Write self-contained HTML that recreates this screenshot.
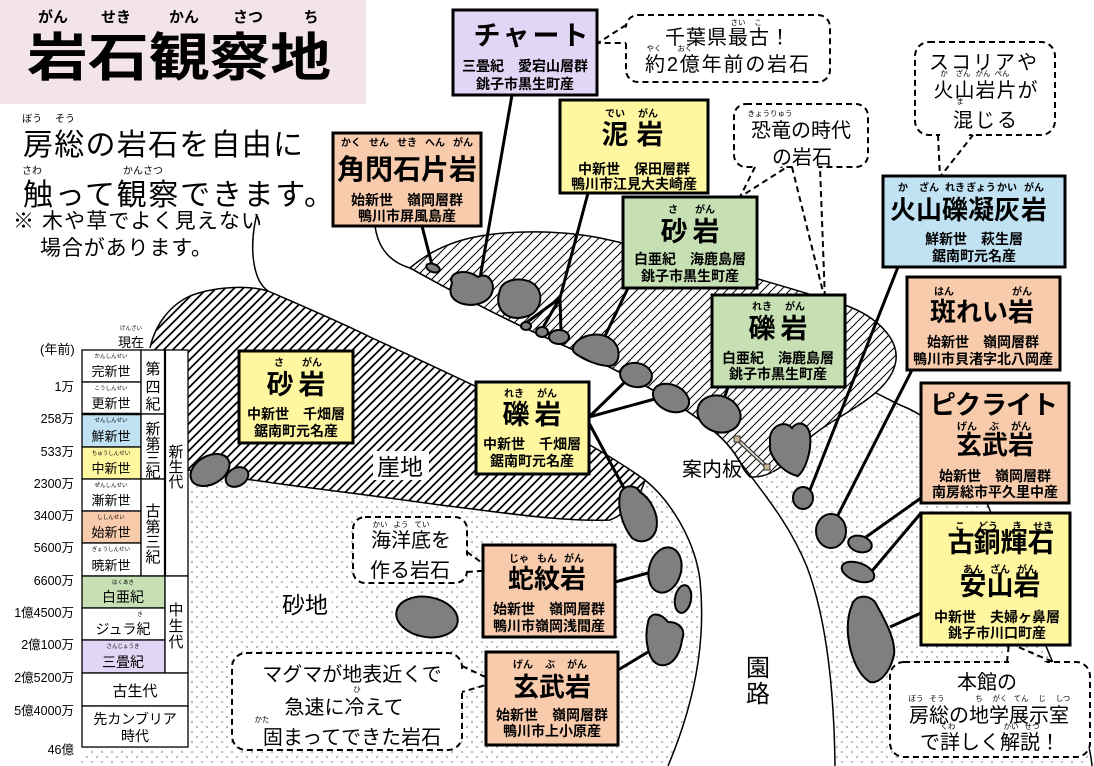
<!DOCTYPE html>
<html><head><meta charset="utf-8">
<style>
html,body{margin:0;padding:0;background:#fff;}
svg{display:block;}
text{font-family:"Liberation Sans","Noto Sans CJK JP",sans-serif;fill:#000;}
.ti{font-size:27px;font-weight:bold;text-anchor:middle;}
.rb{font-size:10px;font-weight:bold;text-anchor:middle;}
.ln{font-size:14px;font-weight:bold;text-anchor:middle;}
.bu{font-size:20px;text-anchor:middle;}
.br{font-size:7.5px;text-anchor:middle;}
.tl{font-size:13px;text-anchor:middle;}
.tr{font-size:5.5px;text-anchor:middle;}
.lb{font-size:12.5px;text-anchor:end;}
.vt{font-size:15px;text-anchor:middle;}
.box{stroke:#000;stroke-width:3;}
.dash{fill:#fff;stroke:#000;stroke-width:2;stroke-dasharray:6 4;}
.dl{fill:none;stroke:#000;stroke-width:2;stroke-dasharray:6 4;}
.rk{fill:#7f7f7f;stroke:#000;stroke-width:2;}
.cn{stroke:#000;stroke-width:3;fill:none;}
.bd{fill:none;stroke:#000;stroke-width:1.5;}
.tc{stroke:#000;stroke-width:1.3;}
</style></head><body>
<svg width="1094" height="766" viewBox="0 0 1094 766" xmlns="http://www.w3.org/2000/svg">
<defs>
<pattern id="hatch" x="0" y="0" width="9" height="9" patternUnits="userSpaceOnUse"><path d="M0,9 L9,0 M-2,2 L2,-2 M7,11 L11,7" stroke="#000" stroke-width="1" fill="none"/></pattern>
<pattern id="dots" width="10" height="10" patternUnits="userSpaceOnUse"><circle cx="2" cy="2" r="0.9" fill="#888"/><circle cx="7" cy="7" r="0.9" fill="#888"/></pattern>
<clipPath id="cliffclip"><path d="M150,348 C155,325 170,305 190,296 C210,288 245,284 268,291 C300,305 340,322 370,337 C420,360 470,383 520,408 C570,433 610,455 645,480 C640,497 630,512 610,520 C560,522 500,512 440,505 C370,495 300,487 260,481 C235,478 215,474 188,470 L150,470 Z"/></clipPath>
</defs>
<rect width="1094" height="766" fill="#fff"/>
<rect x="0" y="0" width="366" height="104" fill="#f3e4ec"/>

<!-- regions -->
<path style="fill:url(#hatch)" d="M150,348 C155,325 170,305 190,296 C210,288 245,284 268,291 C300,305 340,322 370,337 C420,360 470,383 520,408 C570,433 610,455 645,480 C640,497 630,512 610,520 C560,522 500,512 440,505 C370,495 300,487 260,481 C235,478 215,474 188,470 L150,470 Z"/>
<g clip-path="url(#cliffclip)">
<path fill="none" stroke="#000" stroke-width="1" d="M-92,525l242,-242M-83,525l242,-242M-74,525l242,-242M-65,525l242,-242M-56,525l242,-242M-47,525l242,-242M-38,525l242,-242M-29,525l242,-242M-20,525l242,-242M-11,525l242,-242M-2,525l242,-242M7,525l242,-242M16,525l242,-242M25,525l242,-242M34,525l242,-242M43,525l242,-242M52,525l242,-242M61,525l242,-242M70,525l242,-242M79,525l242,-242M88,525l242,-242M97,525l242,-242M106,525l242,-242M115,525l242,-242M124,525l242,-242M133,525l242,-242M142,525l242,-242M151,525l242,-242M160,525l242,-242M169,525l242,-242M178,525l242,-242M187,525l242,-242M196,525l242,-242M205,525l242,-242M214,525l242,-242M223,525l242,-242M232,525l242,-242M241,525l242,-242M250,525l242,-242M259,525l242,-242M268,525l242,-242M277,525l242,-242M286,525l242,-242M295,525l242,-242M304,525l242,-242M313,525l242,-242M322,525l242,-242M331,525l242,-242M340,525l242,-242M349,525l242,-242M358,525l242,-242M367,525l242,-242M376,525l242,-242M385,525l242,-242M394,525l242,-242M403,525l242,-242M412,525l242,-242M421,525l242,-242M430,525l242,-242M439,525l242,-242M448,525l242,-242M457,525l242,-242M466,525l242,-242M475,525l242,-242M484,525l242,-242M493,525l242,-242M502,525l242,-242M511,525l242,-242M520,525l242,-242M529,525l242,-242M538,525l242,-242M547,525l242,-242M556,525l242,-242M565,525l242,-242M574,525l242,-242M583,525l242,-242M592,525l242,-242M601,525l242,-242M610,525l242,-242M619,525l242,-242M628,525l242,-242M637,525l242,-242M646,525l242,-242M655,525l242,-242"/>
</g>
<path style="fill:url(#dots)" d="M188,470 C215,474 235,478 260,481 C300,487 370,495 440,505 C500,512 560,522 610,520 C630,512 640,497 645,480 C670,500 695,540 700,580 C705,630 700,690 668,766 L80,766 L150,470 Z"/>
<path style="fill:url(#hatch);stroke:#000;stroke-width:1.5" d="M410,268 C425,255 445,243 475,237 C510,230 560,230 600,238 C680,255 780,285 845,305 C880,318 898,340 896,360 C893,385 865,402 835,420 C815,432 800,445 790,458 C780,470 765,478 750,477 C745,472 742,467 740,462 C733,450 725,440 710,428 C670,395 600,362 567,347 C500,318 450,290 410,268 Z"/>
<path style="fill:url(#dots)" d="M740,462 C765,495 790,525 807,567 C825,615 834,680 835,766 L1092,766 C1090,740 1075,700 1053,663 C1035,620 1010,560 987,503 C965,455 940,420 900,405 C890,400 882,396 876,393 C864.5,402 850,411 835,420 C815,432 800,445 790,458 C780,470 765,478 750,477 C745,472 742,467 740,462 Z"/>

<!-- boundary lines -->
<path class="bd" d="M257,214 C249,245 252,280 268,291 C300,305 340,322 370,337 C420,360 470,383 520,408 C570,433 610,455 645,480 C670,500 695,540 700,580 C705,630 700,690 668,766"/>
<path class="bd" d="M150,348 C155,325 170,305 190,296 C210,288 245,284 268,291"/>
<path class="bd" d="M188,470 C215,474 235,478 260,481 C300,487 370,495 440,505 C500,512 560,522 610,520 C630,512 640,497 645,480"/>
<path class="bd" d="M375,226 C378,248 390,262 410,268 C450,290 500,318 567,347 C600,362 670,395 710,428 C725,440 733,450 740,462 C765,495 790,525 807,567 C825,615 834,680 835,766"/>
<path class="bd" d="M876,393 C882,396 890,400 900,405 C940,420 965,455 987,503 C1010,560 1035,620 1053,663 C1075,700 1090,740 1092,766"/>

<!-- connectors -->
<path class="cn" d="M512,95 L480,278"/>
<path class="cn" d="M422,226 L432,265"/>
<path class="cn" d="M588,193 L560,298 L526,323 M560,298 L542,329 M560,298 L561,332"/>
<path class="cn" d="M628,288 L605,336"/>
<path class="cn" d="M728,387 L724,399"/>
<path class="cn" d="M589,417 L630,377 M589,417 L662,397 M589,423 L625,490"/>
<path class="cn" d="M898,267 L810,490"/>
<path class="cn" d="M912,370 L838,515"/>
<path class="cn" d="M921,498 L866,537"/>
<path class="cn" d="M921,513 L872,571"/>
<path class="cn" d="M921,613 L890,627"/>
<path class="cn" d="M615,582 L648,573"/>
<path class="cn" d="M618,670 L648,652"/>

<!-- rocks -->
<ellipse class="rk" cx="433" cy="268" rx="7" ry="4" transform="rotate(20 433 268)"/>
<path class="rk" d="M452,283 C447,272 466,268 478,277 C488,271 497,284 491,295 C485,306 465,308 455,300 C449,295 450,289 452,283 Z"/>
<path class="rk" d="M500,290 C503,278 525,276 535,285 C545,295 540,312 528,316 C516,320 505,318 500,308 C497,302 498,296 500,290 Z"/>
<ellipse class="rk" cx="526" cy="326" rx="5" ry="4"/>
<ellipse class="rk" cx="542" cy="332" rx="6" ry="5"/>
<ellipse class="rk" cx="559" cy="337" rx="10" ry="7"/>
<path class="rk" d="M574,345 C580,335 600,330 612,340 C622,348 620,365 610,366 C598,366 585,360 576,354 C572,351 572,348 574,345 Z"/>
<ellipse class="rk" cx="636" cy="375" rx="16" ry="12" transform="rotate(10 636 375)"/>
<ellipse class="rk" cx="671" cy="398" rx="19" ry="13" transform="rotate(25 671 398)"/>
<ellipse class="rk" cx="719" cy="414" rx="22" ry="18" transform="rotate(20 719 414)"/>
<path class="rk" d="M770,437 C772,425 785,420 792,428 C798,420 808,423 810,435 C812,452 805,470 798,476 C788,474 775,465 770,450 Z"/>
<path class="rk" d="M620,495 C622,484 636,484 640,492 C650,498 660,515 656,530 C652,542 640,544 632,538 C624,528 617,510 620,495 Z"/>
<ellipse class="rk" cx="665" cy="570" rx="16" ry="23" transform="rotate(15 665 570)"/>
<ellipse class="rk" cx="683" cy="599" rx="8" ry="14" transform="rotate(10 683 599)"/>
<path class="rk" d="M648,622 C650,612 660,612 668,622 C680,622 686,630 682,640 C680,655 672,667 660,665 C648,662 644,640 648,622 Z"/>
<ellipse class="rk" cx="803" cy="498" rx="10" ry="11"/>
<ellipse class="rk" cx="831" cy="531" rx="15" ry="17"/>
<ellipse class="rk" cx="860" cy="544" rx="12" ry="8" transform="rotate(15 860 544)"/>
<ellipse class="rk" cx="858" cy="572" rx="17" ry="9" transform="rotate(20 858 572)"/>
<path class="rk" d="M852,605 C855,595 868,594 875,602 C885,620 896,640 894,655 C890,672 880,684 870,682 C858,675 850,655 848,635 C847,622 849,612 852,605 Z"/>
<ellipse class="rk" cx="427" cy="617" rx="31" ry="20" transform="rotate(10 427 617)"/>
<ellipse class="rk" cx="210" cy="470" rx="21" ry="14" transform="rotate(-30 210 470)"/>
<ellipse class="rk" cx="237" cy="477" rx="12" ry="9" transform="rotate(-30 237 477)"/>

<!-- sign -->
<line x1="737" y1="439" x2="767" y2="467" stroke="#333" stroke-width="4"/>
<line x1="737" y1="439" x2="767" y2="467" stroke="#e8e0d0" stroke-width="1.6"/>
<rect x="734" y="436" width="6" height="6" fill="#c9b48f" stroke="#333" stroke-width="1"/>
<rect x="764" y="464" width="6" height="6" fill="#c9b48f" stroke="#333" stroke-width="1"/>

<!-- area labels -->
<rect x="373" y="451" width="56" height="29" fill="#fff"/>
<text x="377" y="475" font-size="23">崖地</text>
<text x="682" y="476" font-size="20">案内板</text>
<rect x="278" y="590" width="54" height="28" fill="#fff"/>
<text x="282" y="613" font-size="23">砂地</text>
<text x="758" y="676" font-size="24" text-anchor="middle">園</text>
<text x="758" y="702" font-size="24" text-anchor="middle">路</text>

<!-- bubbles -->
<rect class="dash" x="626" y="15" width="204" height="67" rx="12"/>
<polygon fill="#fff" points="629,26 598,43 629,42"/>
<polyline class="dl" points="626,25 598,43 626,43"/>
<text class="br" x="738" y="25">さい</text><text class="br" x="758" y="25">こ</text>
<text class="bu" x="728" y="44" letter-spacing="1">千葉県最古！</text>
<text class="br" x="654" y="51">やく</text><text class="br" x="685" y="51">おく</text>
<text x="645" y="71" font-size="20" textLength="164" lengthAdjust="spacing">約2億年前の岩石</text>

<rect class="dash" x="734" y="104" width="134" height="63" rx="12"/>
<polygon fill="#fff" points="757,164 740,197 785,164"/>
<polyline class="dl" points="755,167 740,197 787,167"/>
<polygon fill="#fff" points="794,164 825,300 818,164"/>
<polyline class="dl" points="792,167 825,300 820,167"/>
<text class="br" x="770" y="116">きょうりゅう</text>
<text class="bu" x="801" y="137">恐竜の時代</text>
<text class="bu" x="802" y="164">の岩石</text>

<rect class="dash" x="915" y="42" width="140" height="93" rx="14"/>
<polygon fill="#fff" points="940,132 940,177 971,132"/>
<polyline class="dl" points="938,135 940,177 973,135"/>
<text class="bu" x="984" y="69" font-size="19" letter-spacing="2">スコリアや</text>
<text class="br" x="944" y="76">か</text><text class="br" x="963" y="76">ざん</text><text class="br" x="983" y="76">がん</text><text class="br" x="1002" y="76">ぺん</text>
<text class="bu" x="986" y="97" font-size="19" letter-spacing="1">火山岩片が</text>
<text class="br" x="960" y="104">ま</text>
<text class="bu" x="986" y="127" font-size="19" letter-spacing="2">混じる</text>

<rect class="dash" x="353" y="517" width="114" height="66" rx="12"/>
<polygon fill="#fff" points="464,554 492,570 464,571"/>
<polyline class="dl" points="467,552 492,570 467,572"/>
<text class="br" x="380" y="527">かい</text><text class="br" x="401" y="527">よう</text><text class="br" x="422" y="527">てい</text>
<text class="bu" x="411" y="547" font-size="21">海洋底を</text>
<text class="bu" x="410" y="577" font-size="21">作る岩石</text>

<rect class="dash" x="232" y="653" width="230" height="97" rx="14"/>
<polygon fill="#fff" points="459,668 496,682 459,690"/>
<polyline class="dl" points="462,666 496,682 462,692"/>
<text class="bu" x="352" y="681" font-size="21">マグマが地表近くで</text>
<text class="br" x="357" y="692">ひ</text>
<text class="bu" x="344" y="714" font-size="21">急速に冷えて</text>
<text class="br" x="262" y="722">かた</text>
<text class="bu" x="352" y="744" font-size="21">固まってできた岩石</text>

<rect class="dash" x="890" y="662" width="200" height="95" rx="14"/>
<polygon fill="#fff" points="1009,665 1009,643 1051,665"/>
<polyline class="dl" points="1007,662 1009,643 1053,662"/>
<text class="bu" x="987" y="689">本館の</text>
<text class="br" x="916" y="701">ぼう</text><text class="br" x="937" y="701">そう</text><text class="br" x="979" y="701">ち</text><text class="br" x="1000" y="701">がく</text><text class="br" x="1021" y="701">てん</text><text class="br" x="1042" y="701">じ</text><text class="br" x="1063" y="701">しつ</text>
<text class="bu" x="989" y="722" font-size="21">房総の地学展示室</text>
<text class="br" x="948" y="729">くわ</text><text class="br" x="1011" y="729">かい</text><text class="br" x="1032" y="729">せつ</text>
<text class="bu" x="990" y="749" font-size="21">で詳しく解説！</text>

<!-- boxes -->
<rect class="box" x="453" y="10" width="144" height="85" fill="#e2d6f6"/>
<text class="ti" x="487 516 546 575" y="45">チャート</text>
<text class="ln" x="525" y="71">三畳紀　愛宕山層群</text>
<text class="ln" x="525" y="89">銚子市黒生町産</text>

<rect class="box" x="333" y="133" width="148" height="93" fill="#f8cbad"/>
<text class="rb" x="351" y="146">かく</text><text class="rb" x="379" y="146">せん</text><text class="rb" x="407" y="146">せき</text><text class="rb" x="435" y="146">へん</text><text class="rb" x="463" y="146">がん</text>
<text class="ti" style="font-size:28px" x="351 379 407 435 463" y="179">角閃石片岩</text>
<text class="ln" x="407" y="205">始新世　嶺岡層群</text>
<text class="ln" x="407" y="221">鴨川市屏風島産</text>

<rect class="box" x="560" y="100" width="148" height="93" fill="#fff6a0"/>
<text class="rb" x="615" y="117">でい</text><text class="rb" x="648" y="117">がん</text>
<text class="ti" x="615 650" y="144">泥岩</text>
<text class="ln" x="634" y="174">中新世　保田層群</text>
<text class="ln" x="634" y="189">鴨川市江見大夫崎産</text>

<rect class="box" x="623" y="197" width="134" height="91" fill="#c6e0b4"/>
<text class="rb" x="673" y="213">さ</text><text class="rb" x="705" y="213">がん</text>
<text class="ti" x="674 706" y="241">砂岩</text>
<text class="ln" x="690" y="264">白亜紀　海鹿島層</text>
<text class="ln" x="690" y="281">銚子市黒生町産</text>

<rect class="box" x="712" y="295" width="133" height="92" fill="#c6e0b4"/>
<text class="rb" x="762" y="310">れき</text><text class="rb" x="795" y="310">がん</text>
<text class="ti" x="762 794" y="338">礫岩</text>
<text class="ln" x="778" y="363">白亜紀　海鹿島層</text>
<text class="ln" x="778" y="379">銚子市黒生町産</text>

<rect class="box" x="883" y="176" width="182" height="91" fill="#c0e2f2"/>
<text class="rb" x="903" y="191">か</text><text class="rb" x="929" y="191">ざん</text><text class="rb" x="955" y="191">れき</text><text class="rb" x="981" y="191">ぎょう</text><text class="rb" x="1007" y="191">かい</text><text class="rb" x="1034" y="191">がん</text>
<text class="ti" style="font-size:26px" x="903 929 955 981 1007 1034" y="219">火山礫凝灰岩</text>
<text class="ln" x="974" y="244">鮮新世　萩生層</text>
<text class="ln" x="974" y="261">鋸南町元名産</text>

<rect class="box" x="907" y="277" width="153" height="93" fill="#f8cbad"/>
<text class="rb" x="944" y="295">はん</text><text class="rb" x="1022" y="295">がん</text>
<text class="ti" style="font-size:26px" x="943 969 995 1021" y="321">斑れい岩</text>
<text class="ln" x="983" y="347">始新世　嶺岡層群</text>
<text class="ln" x="983" y="364">鴨川市貝渚字北八岡産</text>

<rect class="box" x="921" y="383" width="148" height="120" fill="#f8cbad"/>
<text class="ti" style="font-size:26px" x="943 968 994 1019 1045" y="414">ピクライト</text>
<text class="rb" x="967" y="430">げん</text><text class="rb" x="994" y="430">ぶ</text><text class="rb" x="1021" y="430">がん</text>
<text class="ti" style="font-size:26px" x="969 995 1021" y="454">玄武岩</text>
<text class="ln" x="995" y="481">始新世　嶺岡層群</text>
<text class="ln" x="995" y="497">南房総市平久里中産</text>

<rect class="box" x="921" y="513" width="149" height="132" fill="#fff6a0"/>
<text class="rb" x="960" y="530">こ</text><text class="rb" x="988" y="530">どう</text><text class="rb" x="1017" y="530">き</text><text class="rb" x="1043" y="530">せき</text>
<text class="ti" x="961 987 1014 1041" y="552">古銅輝石</text>
<text class="rb" x="973" y="573">あん</text><text class="rb" x="1000" y="573">ざん</text><text class="rb" x="1027" y="573">がん</text>
<text class="ti" x="973 1000 1027" y="595">安山岩</text>
<text class="ln" x="997" y="622">中新世　夫婦ヶ鼻層</text>
<text class="ln" x="997" y="638">銚子市川口町産</text>

<rect class="box" x="239" y="351" width="114" height="92" fill="#fff6a0"/>
<text class="rb" x="279" y="366">さ</text><text class="rb" x="312" y="366">がん</text>
<text class="ti" x="280 312" y="394">砂岩</text>
<text class="ln" x="296" y="419">中新世　千畑層</text>
<text class="ln" x="296" y="436">鋸南町元名産</text>

<rect class="box" x="476" y="382" width="113" height="92" fill="#fff6a0"/>
<text class="rb" x="514" y="397">れき</text><text class="rb" x="547" y="397">がん</text>
<text class="ti" x="516 548" y="424">礫岩</text>
<text class="ln" x="532" y="449">中新世　千畑層</text>
<text class="ln" x="532" y="466">鋸南町元名産</text>

<rect class="box" x="483" y="545" width="132" height="92" fill="#f8cbad"/>
<text class="rb" x="519" y="562">じゃ</text><text class="rb" x="547" y="562">もん</text><text class="rb" x="574" y="562">がん</text>
<text class="ti" style="font-size:26px" x="521 547 573" y="588">蛇紋岩</text>
<text class="ln" x="549" y="614">始新世　嶺岡層群</text>
<text class="ln" x="549" y="631">鴨川市嶺岡浅間産</text>

<rect class="box" x="486" y="652" width="132" height="93" fill="#f8cbad"/>
<text class="rb" x="523" y="668">げん</text><text class="rb" x="550" y="668">ぶ</text><text class="rb" x="577" y="668">がん</text>
<text class="ti" style="font-size:26px" x="526 552 578" y="696">玄武岩</text>
<text class="ln" x="552" y="720">始新世　嶺岡層群</text>
<text class="ln" x="552" y="736">鴨川市上小原産</text>

<!-- timeline -->
<g fill="#fff" class="tc">
<rect x="82" y="350" width="59" height="32"/>
<rect x="82" y="382" width="59" height="32"/>
<rect x="82" y="414" width="59" height="33" fill="#c0e2f2"/>
<rect x="82" y="447" width="59" height="32" fill="#fff6a0"/>
<rect x="82" y="479" width="59" height="32"/>
<rect x="82" y="511" width="59" height="32" fill="#f8cbad"/>
<rect x="82" y="543" width="59" height="33"/>
<rect x="141" y="350" width="24" height="64"/>
<rect x="141" y="414" width="24" height="65"/>
<rect x="141" y="479" width="24" height="97"/>
<rect x="165" y="350" width="23" height="226"/>
<rect x="82" y="576" width="83" height="32" fill="#c6e0b4"/>
<rect x="82" y="608" width="83" height="32"/>
<rect x="82" y="640" width="83" height="33" fill="#e2d6f6"/>
<rect x="165" y="576" width="23" height="97"/>
<rect x="82" y="673" width="106" height="33"/>
<rect x="82" y="706" width="106" height="41"/>
</g>
<line x1="82" y1="414" x2="141" y2="414" stroke="#000" stroke-width="2.5"/>
<line x1="165" y1="350" x2="165" y2="576" stroke="#000" stroke-width="2.2"/>

<text class="tr" x="111" y="358">かんしんせい</text><text class="tl" x="111" y="376">完新世</text>
<text class="tr" x="111" y="390">こうしんせい</text><text class="tl" x="111" y="408">更新世</text>
<text class="tr" x="111" y="422">せんしんせい</text><text class="tl" x="111" y="441">鮮新世</text>
<text class="tr" x="111" y="455">ちゅうしんせい</text><text class="tl" x="111" y="473">中新世</text>
<text class="tr" x="111" y="487">ぜんしんせい</text><text class="tl" x="111" y="505">漸新世</text>
<text class="tr" x="111" y="519">ししんせい</text><text class="tl" x="111" y="537">始新世</text>
<text class="tr" x="111" y="551">ぎょうしんせい</text><text class="tl" x="111" y="570">暁新世</text>
<text class="tr" x="123" y="584">はくあき</text><text class="tl" x="123" y="602" style="font-size:14px">白亜紀</text>
<text class="tr" x="140" y="616">き</text><text class="tl" x="123" y="634" style="font-size:14px">ジュラ紀</text>
<text class="tr" x="123" y="648">さんじょうき</text><text class="tl" x="123" y="667" style="font-size:14px">三畳紀</text>
<text class="tl" x="135" y="696" style="font-size:15px">古生代</text>
<text class="tl" x="135" y="724" style="font-size:14px">先カンブリア</text>
<text class="tl" x="135" y="741" style="font-size:14px">時代</text>

<text class="vt" x="153" y="374">第</text><text class="vt" x="153" y="392">四</text><text class="vt" x="153" y="409">紀</text>
<text class="vt" x="153" y="434">新</text><text class="vt" x="153" y="449">第</text><text class="vt" x="153" y="463">三</text><text class="vt" x="153" y="477">紀</text>
<text class="vt" x="153" y="516">古</text><text class="vt" x="153" y="532">第</text><text class="vt" x="153" y="547">三</text><text class="vt" x="153" y="562">紀</text>
<text class="vt" x="176" y="457">新</text><text class="vt" x="176" y="472">生</text><text class="vt" x="176" y="487">代</text>
<text class="vt" x="176" y="615">中</text><text class="vt" x="176" y="631">生</text><text class="vt" x="176" y="647">代</text>

<text x="40" y="354" font-size="13">(年前)</text>
<text class="tr" x="131" y="330">げんざい</text>
<text class="tl" x="131" y="347">現在</text>
<text class="lb" x="74" y="391">1万</text>
<text class="lb" x="74" y="423">258万</text>
<text class="lb" x="74" y="456">533万</text>
<text class="lb" x="74" y="488">2300万</text>
<text class="lb" x="74" y="520">3400万</text>
<text class="lb" x="74" y="552">5600万</text>
<text class="lb" x="74" y="585">6600万</text>
<text class="lb" x="74" y="617">1億4500万</text>
<text class="lb" x="74" y="649">2億100万</text>
<text class="lb" x="74" y="682">2億5200万</text>
<text class="lb" x="74" y="715">5億4000万</text>
<text class="lb" x="74" y="754">46億</text>

<!-- title -->
<text font-size="15" font-weight="bold" text-anchor="middle" x="53" y="22">がん</text>
<text font-size="15" font-weight="bold" text-anchor="middle" x="116" y="22">せき</text>
<text font-size="15" font-weight="bold" text-anchor="middle" x="184" y="22">かん</text>
<text font-size="15" font-weight="bold" text-anchor="middle" x="248" y="22">さつ</text>
<text font-size="15" font-weight="bold" text-anchor="middle" x="311" y="22">ち</text>
<text transform="translate(27,76) scale(1.17,1)" font-size="52" font-weight="bold">岩石観察地</text>

<!-- intro -->
<text font-size="10" text-anchor="middle" x="32" y="122">ぼう</text>
<text font-size="10" text-anchor="middle" x="65" y="122">そう</text>
<text x="23" y="155" font-size="30" textLength="280" lengthAdjust="spacing">房総の岩石を自由に</text>
<text font-size="10" text-anchor="middle" x="32" y="174">さわ</text>
<text font-size="10" text-anchor="middle" x="143" y="174">かんさつ</text>
<text x="23" y="205" font-size="30" textLength="311" lengthAdjust="spacing">触って観察できます。</text>
<text x="13" y="228" font-size="21" textLength="249" lengthAdjust="spacing">※ 木や草でよく見えない</text>
<text x="40" y="255" font-size="21" textLength="172" lengthAdjust="spacing">場合があります。</text>
</svg>
</body></html>
